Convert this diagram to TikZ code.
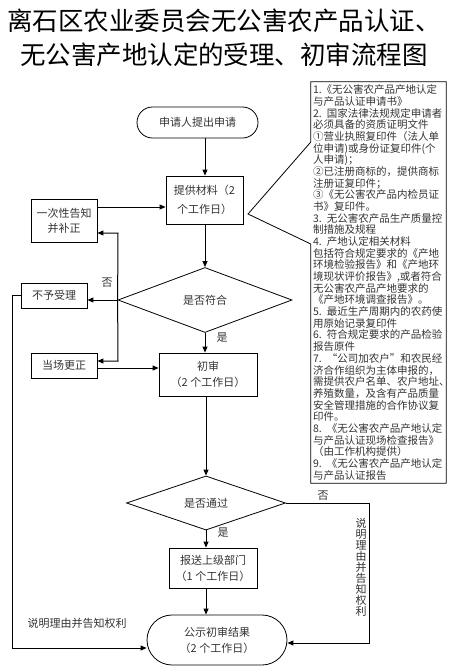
\documentclass[tikz,border=0pt]{standalone}
\usepackage{fontspec}
\setmainfont{Noto Sans CJK SC}
\usetikzlibrary{shapes.geometric, arrows.meta, positioning, calc}

\begin{document}
\begin{tikzpicture}[x=1pt, y=-1pt, >={Triangle[length=6pt,width=5pt]},
    box/.style={draw, line width=0.8pt, align=center, inner sep=1pt, text=black!80, font=\fontsize{11}{16}\selectfont},
    term/.style={box, rounded corners=#1},
    decision/.style={draw, diamond, line width=0.8pt, inner sep=0pt, text=black!80, font=\fontsize{11}{13}\selectfont},
    flow/.style={->, line width=1pt},
    note/.style={inner sep=1pt, text=black!80, font=\fontsize{11}{13}\selectfont}]
    \useasboundingbox (0,0) rectangle (448,667);

    % title
    \node (title1) [font=\fontsize{25.5}{30}\selectfont] at (224,21) {离石区农业委员会无公害农产品认证、};
    \node (title2) [font=\fontsize{25.5}{30}\selectfont] at (224,55) {无公害产地认定的受理、初审流程图};

    % main flow
    \node (apply) [term=15.5pt, minimum width=121pt, minimum height=31pt] at (197.5,122.5) {申请人提出申请};
    \node (supply) [box, minimum width=77pt, minimum height=48pt, font=\fontsize{11}{19}\selectfont] at (204.5,200) {提供材料（2\\个工作日）};
    \node (notice) [box, minimum width=66pt, minimum height=43pt, font=\fontsize{11}{15}\selectfont] at (64,220.5) {一次性告知\\并补正};
    \node (fit) [decision, minimum width=174pt, minimum height=65pt] at (205,300) {是否符合};
    \node (nosh) [box, minimum width=66pt, minimum height=25pt] at (54,295.5) {不予受理};
    \node (fix) [box, minimum width=66pt, minimum height=25pt] at (64,365.5) {当场更正};
    \node (prelim) [box, minimum width=98pt, minimum height=43pt] at (208,374.5) {初审\\（2 个工作日）};
    \node (pass) [decision, minimum width=159pt, minimum height=36pt] at (206,503) {是否通过};
    \node (report) [box, minimum width=88pt, minimum height=40pt] at (213,568) {报送上级部门\\（1 个工作日）};
    \node (publish) [term=25pt, minimum width=140pt, minimum height=50pt] at (217,640) {公示初审结果\\（2 个工作日）};

    % materials list
    \node (docs) [minimum width=135pt, minimum height=401pt, text width=131pt, inner sep=2pt, align=left, text=black!80, font=\fontsize{10.5}{11.67}\selectfont] at (378.5,282.5) {%
        1.《无公害农产品产地认定\\
        与产品认证申请书》\\
        2. 国家法律法规规定申请者\\
        必须具备的资质证明文件\\
        ①营业执照复印件（法人单\\
        位申请)或身份证复印件(个\\
        人申请)；\\
        ②已注册商标的，提供商标\\
        注册证复印件；\\
        ③《无公害农产品内检员证\\
        书》复印件。\\
        3. 无公害农产品生产质量控\\
        制措施及规程\\
        4. 产地认定相关材料\\
        包括符合规定要求的《产地\\
        环境检验报告》和《产地环\\
        境现状评价报告》,或者符合\\
        无公害农产品产地要求的\\
        《产地环境调查报告》。\\
        5. 最近生产周期内的农药使\\
        用原始记录复印件\\
        6. 符合规定要求的产品检验\\
        报告原件\\
        7. “公司加农户”和农民经\\
        济合作组织为主体申报的，\\
        需提供农户名单、农户地址、\\
        养殖数量，及含有产品质量\\
        安全管理措施的合作协议复\\
        印件。\\
        8. 《无公害农产品产地认定\\
        与产品认证现场检查报告》\\
        （由工作机构提供）\\
        9. 《无公害农产品产地认定\\
        与产品认证报告};
    \coordinate (tip) at (248,214);
    \draw[line width=0.8pt] (docs.north west) -- (docs.north east) -- (docs.south east) -- (docs.south west)
        -- (docs.south west |- 0,244) -- (tip) -- (docs.north west |- 0,142) -- cycle;

    % connectors
    \coordinate (spine) at (205,0);
    \draw[flow] (apply.south -| spine) -- (supply.north -| spine);
    \draw[flow] (supply.south -| spine) -- (fit.north);
    \draw[flow] (notice.east |- 0,207) -- (supply.west |- 0,207);
    \coordinate (up) at (118,233);
    \coordinate (dn) at (118,361);
    \draw[flow] (fit.west) -- (fit.west -| nosh.east);
    \draw[flow] (fit.west) -- (up) -- (up -| notice.east);
    \draw[flow] (fit.west) -- (dn) -- (dn -| fix.east);
    \draw[flow] (fix.east |- 0,368) -- (prelim.west |- 0,368);
    \draw[flow] (fit.south) -- (fit.south |- prelim.north);
    \draw[flow] (prelim.south -| pass.north) -- (pass.north);
    \draw[flow] (pass.south) -- (pass.south |- report.north);
    \draw[flow] (report.south -| pass.south) -- (publish.north -| pass.south);
    \draw[flow] (nosh.west) -| (12,648) -- (publish.west |- 0,648);
    \coordinate (rgt) at (369,503);
    \draw[flow] (pass.east) -- (rgt) |- (publish.east |- 0,643);

    % labels
    \node (no1) [note] at (107,283) {否};
    \node (yes1) [note] at (222,338) {是};
    \node (no2) [note] at (323,496) {否};
    \node (yes2) [note] at (223,533) {是};
    \node (why1) [note] at (77,623) {说明理由并告知权利};
    \node (why2) [note, align=center, font=\fontsize{11}{11}\selectfont] at (361,567.5) {说\\明\\理\\由\\并\\告\\知\\权\\利};
\end{tikzpicture}
\end{document}
